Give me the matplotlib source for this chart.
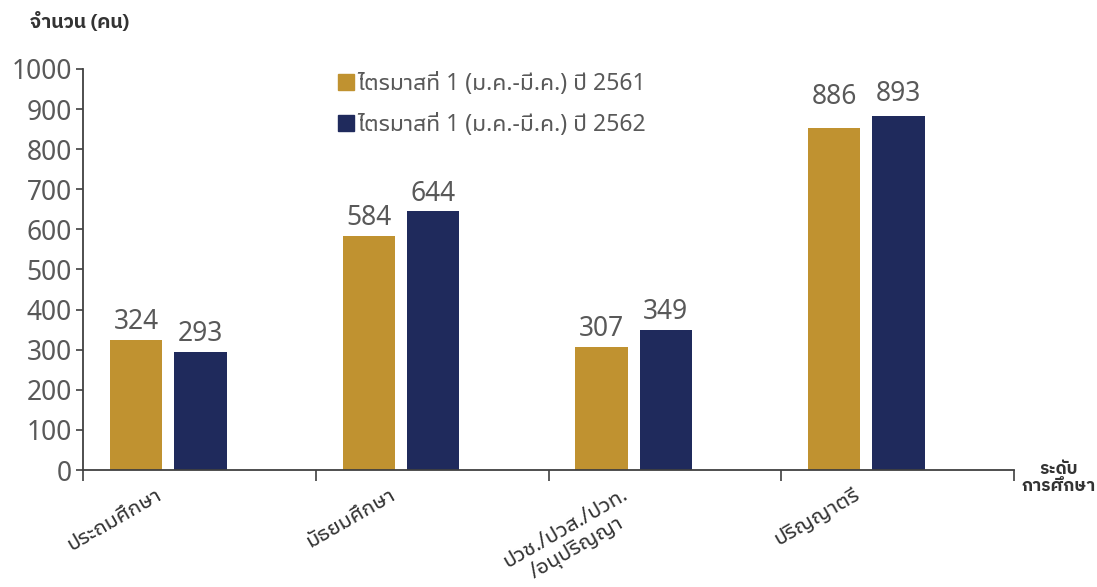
import matplotlib
matplotlib.use("Agg")
import matplotlib.pyplot as plt
from matplotlib.lines import Line2D
import numpy as np

# data
categories = ['ประถมศึกษา', 'มัธยมศึกษา', 'ปวช./ปวส./ปวท.\n/อนุปริญญา', 'ปริญญาตรี']
series_names = ['ไตรมาสที่ 1 (ม.ค.-มี.ค.) ปี 2561', 'ไตรมาสที่ 1 (ม.ค.-มี.ค.) ปี 2562']
# bar heights as drawn in the picture, and the numbers printed on them
heights_2561 = [325, 583, 306, 852]
heights_2562 = [295, 645, 350, 882]
labels_2561 = [324, 584, 307, 886]
labels_2562 = [293, 644, 349, 893]

gold = '#C09230'
navy = '#1F2A5C'
grey = '#595959'
thai = ['Noto Sans Thai UI', 'Noto Sans']
thai_bold = ['IBM Plex Sans Thai', 'Noto Sans']
num = ['Noto Sans']

fig = plt.figure(figsize=(10.97, 5.87), dpi=100)
ax = fig.add_axes([0.0757, 0.1993, 0.8486, 0.6832])

x = np.arange(len(categories))
w = 0.225
b1 = ax.bar(x - 0.272, heights_2561, w, color=gold)
b2 = ax.bar(x + 0.004, heights_2562, w, color=navy)

for bars, labs in ((b1, labels_2561), (b2, labels_2562)):
    for r, v in zip(bars, labs):
        ax.annotate(str(v), (r.get_x() + r.get_width() / 2, v),
                    xytext=(0, 3), textcoords='offset points',
                    ha='center', va='bottom', fontsize=19, color=grey,
                    family=num)

ax.set_xlim(-0.5, 3.5)
ax.set_ylim(0, 1000)
ax.set_yticks(np.arange(0, 1001, 100))
ax.tick_params(axis='y', labelsize=19, labelcolor=grey, length=5,
               width=1.2, color='#404040', pad=3)
for t in ax.get_yticklabels():
    t.set_family(num)

# category boundaries carry the tick marks, labels sit left of the centres
ax.set_xticks(np.arange(-0.5, 3.6, 1), minor=True)
ax.set_xticks(x - 0.19)
ax.set_xticklabels(categories, rotation=30, ha='right', va='top',
                   rotation_mode='anchor', multialignment='center',
                   fontsize=15.5, family=thai, color='#333333',
                   linespacing=1.1)
ax.tick_params(axis='x', which='major', length=0, pad=10)
ax.tick_params(axis='x', which='minor', length=8, width=1.2, color='#404040',
               direction='out')

for s in ['top', 'right']:
    ax.spines[s].set_visible(False)
for s in ['left', 'bottom']:
    ax.spines[s].set_color('#404040')
    ax.spines[s].set_linewidth(1.3)

handles = [Line2D([], [], marker='s', color=c, linestyle='none', markersize=11)
           for c in (gold, navy)]
leg = ax.legend(handles, series_names, loc='upper left',
                bbox_to_anchor=(0.288, 0.913), bbox_transform=fig.transFigure,
                frameon=False, handlelength=0.8, handletextpad=0.1,
                labelspacing=0.74, prop={'family': thai, 'size': 16.5})
for t in leg.get_texts():
    t.set_color(grey)

fig.text(0.027, 0.962, 'จำนวน (คน)', fontsize=14, fontweight='bold',
         family=thai_bold, color='#333333', va='center')
fig.text(0.965, 0.186, 'ระดับ\nการศึกษา', fontsize=12.5, fontweight='bold',
         family=thai_bold, color='#333333', ha='center', va='center',
         multialignment='center')

fig.savefig('out.png', dpi=100)
